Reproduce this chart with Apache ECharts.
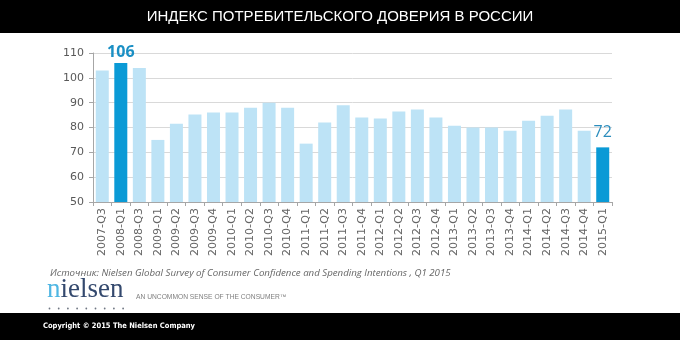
<!DOCTYPE html>
<html>
<head>
<meta charset="utf-8">
<script src="https://cdn.jsdelivr.net/npm/echarts@6/dist/echarts.min.js"></script>
<style>
html,body{margin:0;padding:0;background:#fff;}
#c{width:680px;height:340px;}
</style>
</head>
<body>
<div id="c"></div>
<script>
const categories = ["2007-Q3","2008-Q1","2008-Q3","2009-Q1","2009-Q2","2009-Q3","2009-Q4","2010-Q1","2010-Q2","2010-Q3","2010-Q4","2011-Q1","2011-Q2","2011-Q3","2011-Q4","2012-Q1","2012-Q2","2012-Q3","2012-Q4","2013-Q1","2013-Q2","2013-Q3","2013-Q4","2014-Q1","2014-Q2","2014-Q3","2014-Q4","2015-Q1"];
const values = [103,106,104,75,81.5,85.2,86,86,88,90,88,73.5,82,89,84,83.6,86.4,87.2,84,80.7,80,80,78.7,82.7,84.7,87.2,78.7,72];
const highlighted = ["2008-Q1","2015-Q1"];
const yTicks = {min:50, max:110, interval:10};
const titleText = "ИНДЕКС ПОТРЕБИТЕЛЬСКОГО ДОВЕРИЯ В РОССИИ";
const sourceText = "Источник: Nielsen Global Survey of Consumer Confidence and Spending Intentions , Q1 2015";
const taglineText = "AN UNCOMMON SENSE OF THE CONSUMER™";
const copyrightText = "Copyright © 2015 The Nielsen Company";

const LIGHT = '#bde3f6', DARK = '#0a9ad6';
const seriesData = values.map((v,i)=>{
  const c = categories[i];
  const hi = highlighted.includes(c);
  const d = {value:v, itemStyle:{color: hi?DARK:LIGHT}};
  if (hi) {
    const last = i === values.length-1;
    d.label = {show:true, position:'top', distance: last?7:2,
      formatter: ()=>String(Math.round(v)),
      color: last?'#2b8dbd':'#1a8fc4', fontSize:16, fontWeight: last?'normal':'bold',
      fontFamily:'"Open Sans", "DejaVu Sans", sans-serif'};
  }
  return d;
});

const chart = echarts.init(document.getElementById('c'), null, {renderer:'canvas'});
const dots = [];
for (let k=0;k<9;k++) dots.push({type:'circle', shape:{cx:49.5+k*9.2, cy:308.5, r:0.9}, style:{fill:'#6f7682'}});
chart.setOption({
  animation:false,
  backgroundColor:'#fff',
  grid:{left:93, right:68, top:53, bottom:138, containLabel:false},
  xAxis:{type:'category', data:categories, boundaryGap:true,
    axisLine:{show:true, lineStyle:{color:'#a6a6a6', width:1}},
    axisTick:{show:true, interval:0, length:4, lineStyle:{color:'#a6a6a6'}},
    axisLabel:{interval:0, rotate:90, fontSize:11, color:'#666666', margin:6,
      fontFamily:'"DejaVu Sans", Verdana, sans-serif'}},
  yAxis:{type:'value', min:yTicks.min, max:yTicks.max, interval:yTicks.interval,
    axisLine:{show:true, lineStyle:{color:'#a6a6a6', width:1}},
    axisTick:{show:true, length:4, lineStyle:{color:'#a6a6a6'}},
    splitLine:{show:true, lineStyle:{color:'#d9d9d9', width:1}},
    axisLabel:{fontSize:11, color:'#595959', margin:9, fontFamily:'"DejaVu Sans", Verdana, sans-serif'}},
  series:[{type:'bar', data:seriesData, barWidth:13, silent:true}],
  graphic:[
    {type:'rect', shape:{x:0,y:0,width:680,height:33}, style:{fill:'#000'}, z:-1},
    {type:'text', x:340, y:17, style:{text:titleText, fill:'#fff', font:'15px "Liberation Sans", Arial, sans-serif', textAlign:'center', textVerticalAlign:'middle'}},
    {type:'text', x:50, y:273, style:{text:sourceText, fill:'#666666', font:'italic 9.7px "Open Sans", "Liberation Sans", sans-serif', textAlign:'left', textVerticalAlign:'middle'}},
    {type:'text', x:47, y:303, style:{text:'{a|n}{b|ielsen}', rich:{a:{fill:'#4fb6e3', font:'27px "Liberation Serif", "DejaVu Serif", serif'}, b:{fill:'#34496e', font:'27px "Liberation Serif", "DejaVu Serif", serif'}}, textAlign:'left', textVerticalAlign:'bottom'}},
    ...dots,
    {type:'text', x:136, y:297, style:{text:taglineText, fill:'#7f7f7f', font:'6.7px "Liberation Sans", Arial, sans-serif', textAlign:'left', textVerticalAlign:'middle'}},
    {type:'rect', shape:{x:0,y:313,width:680,height:27}, style:{fill:'#000'}, z:-1},
    {type:'text', x:43, y:326, style:{text:copyrightText, fill:'#fff', font:'bold 7.5px "DejaVu Sans Condensed", "Liberation Sans", sans-serif', textAlign:'left', textVerticalAlign:'middle'}}
  ]
});
</script>
</body>
</html>
